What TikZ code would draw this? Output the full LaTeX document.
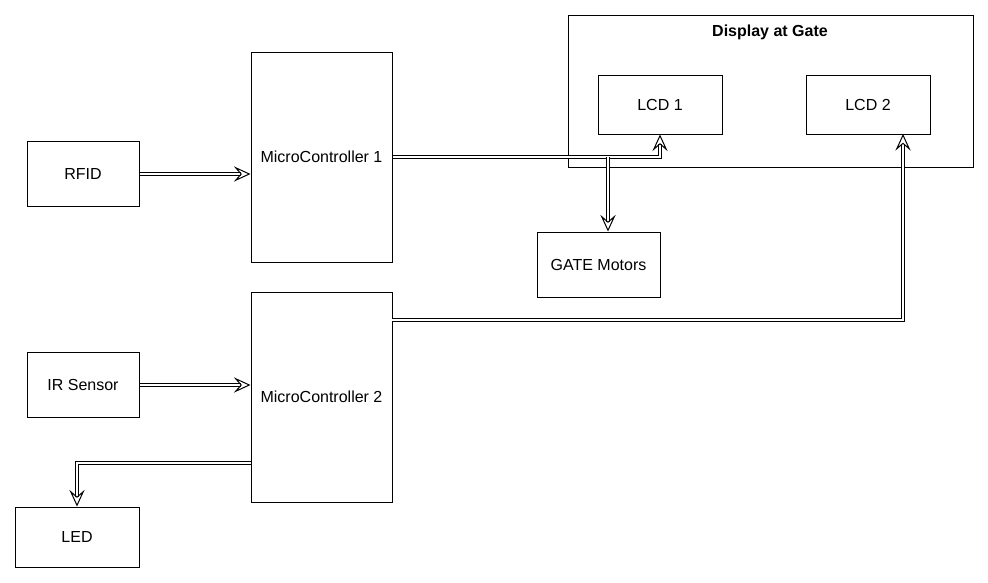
\documentclass[tikz,border=0pt]{standalone}
\usepackage{fontspec}
\setmainfont{Liberation Sans}
\usetikzlibrary{arrows.meta}
\tikzset{
    block/.style={draw, line width=0.75pt, minimum width=84pt, minimum height=48.75pt, font=\fontsize{12}{14}\selectfont},
    link/.style={double, double distance=1.5pt, line width=0.75pt, -{Stealth[open, inset=5pt, length=12.5pt, width=11.5pt, line width=0.75pt]}},
}
\begin{document}
\begin{tikzpicture}[x=0.75pt, y=-0.75pt]
    \useasboundingbox (0,0) rectangle (988,582);
    % display group
    \node[block, minimum width=303.75pt, minimum height=114pt] (display) at (770.5,91) {};
    \node[font=\bfseries\fontsize{12}{14}\selectfont] (title) at (770,32) {Display at Gate};
    \node[block, minimum width=93pt, minimum height=44.25pt] (lcd1) at (660,104.5) {LCD 1};
    \node[block, minimum width=93pt, minimum height=44.25pt] (lcd2) at (868,104.5) {LCD 2};
    % inputs and controllers
    \node[block] (rfid) at (83,174) {RFID};
    \node[block] (ir) at (83,385) {IR Sensor};
    \node[block, minimum width=93pt, minimum height=45pt] (led) at (77,537) {LED};
    \node[block, minimum width=105.75pt, minimum height=157.5pt] (mc1) at (321.5,157) {MicroController 1};
    \node[block, minimum width=105.75pt, minimum height=157.5pt] (mc2) at (321.5,397) {MicroController 2};
    \node[block, minimum width=92.25pt] (gate) at (598.5,264.5) {GATE Motors};
    % connections
    \coordinate (split) at (608,157);
    \coordinate (mc2out) at (392,320);
    \coordinate (lcd2in) at (903,134);
    \coordinate (mc2led) at (251,463);
    \draw[link] (rfid.east) -- (rfid.east -| mc1.west);
    \draw[link] (ir.east) -- (ir.east -| mc2.west);
    \draw[link] (mc1.east) -| (lcd1.south);
    \draw[link] (split) -- (split |- gate.north);
    \draw[link] (mc2out) -| (lcd2in);
    \draw[link] (mc2led) -| (led.north);
\end{tikzpicture}
\end{document}
